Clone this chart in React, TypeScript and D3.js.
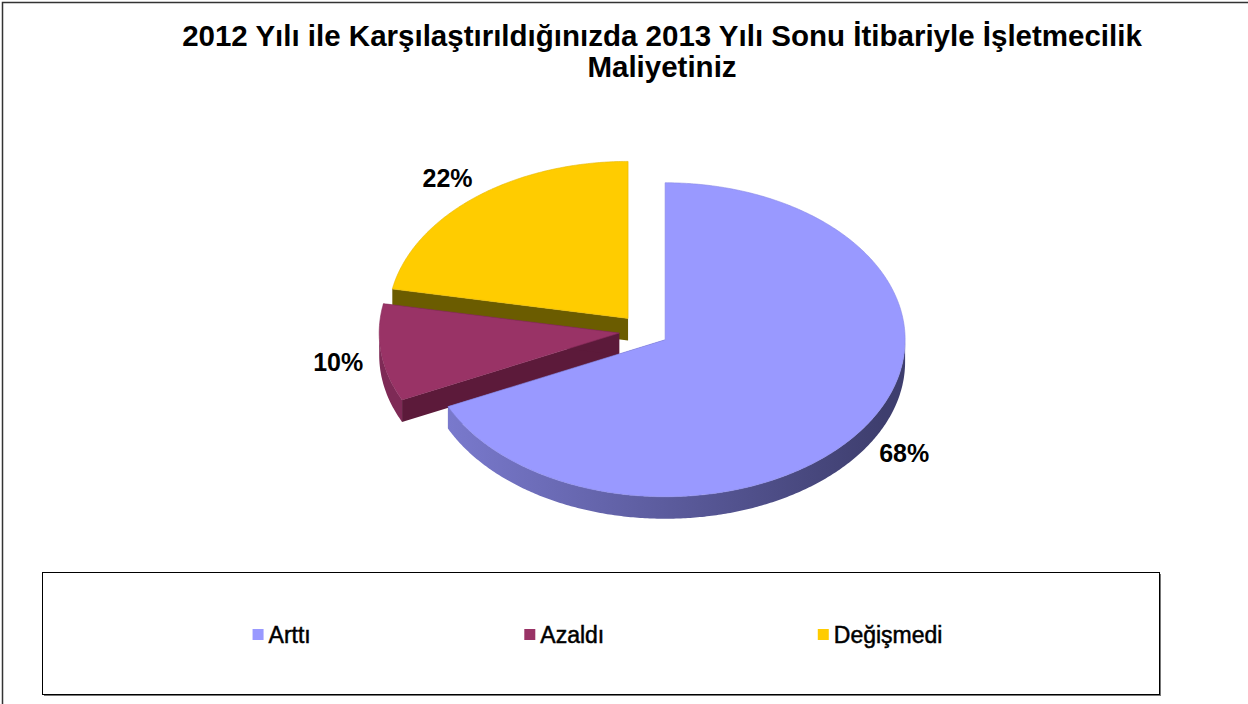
import * as React from 'react'
import * as d3 from 'd3'

// chart data
const categories = ['Arttı', 'Azaldı', 'Değişmedi']
const shares = [68, 10, 22]
const titleLines = [
  '2012 Yılı ile Karşılaştırıldığınızda 2013 Yılı Sonu İtibariyle İşletmecilik',
  'Maliyetiniz',
]

// look
const topColors = ['#9999FF', '#993366', '#FFCC00']
const wallLight = ['#7f7fd6', '#7e2a56', '#8a7300']
const wallDark = ['#3e3e6e', '#4f1631', '#5e4e00']
const cutColors = ['#54548f', '#5c1a3a', '#6b5c00']

const W = 1248
const H = 704
const FONT = "'Liberation Sans', Arial, sans-serif"

const cx = 644
const cy = 331
const rx = 240
const ry = 157
const depth = 22
const explode = 25

const measure = (() => {
  const ctx = document.createElement('canvas').getContext('2d')
  return (txt: string, size: number) => {
    if (!ctx) return txt.length * size * 0.55
    ctx.font = `${size}px ${FONT}`
    return ctx.measureText(txt).width
  }
})()

const line = d3.line()

const Slice = ({ s, i, grad }) => {
  const mid = (s.startAngle + s.endAngle) / 2
  const ox = cx + explode * Math.sin(mid)
  const oy = cy - explode * (ry / rx) * Math.cos(mid)
  const pt = (a: number, dy = 0): [number, number] => [ox + rx * Math.sin(a), oy - ry * Math.cos(a) + dy]
  const arcPts = (a0: number, a1: number, dy = 0) => {
    const n = Math.max(2, Math.ceil((a1 - a0) / 0.01))
    return d3.range(n + 1).map(k => pt(a0 + ((a1 - a0) * k) / n, dy))
  }
  const apex: [number, number] = [ox, oy]
  const apexD: [number, number] = [ox, oy + depth]

  const cut = (a: number) => line([apex, pt(a), pt(a, depth), apexD]) + 'Z'
  const top = line([apex, ...arcPts(s.startAngle, s.endAngle)]) + 'Z'

  // only the front half of the rim shows
  const f0 = Math.max(s.startAngle, Math.PI / 2)
  const f1 = Math.min(s.endAngle, (3 * Math.PI) / 2)
  const wall = f1 > f0 ? line([...arcPts(f0, f1), ...arcPts(f0, f1, depth).reverse()]) + 'Z' : null

  return (
    <g>
      <path d={cut(s.startAngle)} fill={cutColors[i]} />
      <path d={cut(s.endAngle)} fill={cutColors[i]} />
      {wall && <path d={wall} fill={`url(#${grad})`} />}
      <path d={top} fill={topColors[i]} stroke={d3.color(topColors[i]).darker(0.3).toString()} strokeWidth={0.6} />
    </g>
  )
}

const App = () => {
  const pie = d3.pie<number>().sort(null).value(d => d)
  const slices = pie(shares)

  // back slices first so the big front slice covers them
  const order = [2, 1, 0]

  const labels = slices.map(s => {
    const mid = (s.startAngle + s.endAngle) / 2
    const ox = cx + explode * Math.sin(mid)
    const oy = cy - explode * (ry / rx) * Math.cos(mid)
    const f = 1.18
    const x = ox + rx * f * Math.sin(mid)
    const y = oy - ry * f * Math.cos(mid) + depth * Math.max(0, -Math.cos(mid)) + 5
    return { x, y, text: Math.round((s.data / d3.sum(shares)) * 100) + '%' }
  })

  // legend: items spread evenly across the box
  const lgX = 42
  const lgY = 572
  const lgW = 1117
  const lgH = 122
  const mark = 11
  const fs = 23
  const itemW = categories.map(c => mark + 5 + measure(c, fs))
  const gap = (lgW - d3.sum(itemW)) / (categories.length + 1)
  const itemX = itemW.map((_, k) => lgX + gap * (k + 1) + d3.sum(itemW.slice(0, k)) - 3)

  return (
    <svg width={W} height={H} style={{ position: 'fixed', left: 0, top: 0, background: '#fff' }} fontFamily={FONT}>
      <defs>
        {slices.map((s, i) => (
          <linearGradient key={i} id={`wall${i}`} gradientUnits="userSpaceOnUse" x1={cx - rx} x2={cx + rx} y1={0} y2={0}>
            <stop offset="0%" stopColor={wallLight[i]} />
            <stop offset="100%" stopColor={wallDark[i]} />
          </linearGradient>
        ))}
      </defs>
      <rect x={2.5} y={2.5} width={W + 20} height={H + 20} fill="none" stroke="#333" strokeWidth={1.5} />

      {titleLines.map((t, k) => (
        <text key={k} x={662} y={46 + k * 31} textAnchor="middle" fontSize={29.5} fontWeight="bold" fill="#000">
          {t}
        </text>
      ))}

      {order.map(i => (
        <Slice key={i} s={slices[i]} i={i} grad={`wall${i}`} />
      ))}

      {labels.map((l, i) => (
        <text key={i} x={l.x} y={l.y} textAnchor="middle" dominantBaseline="middle" fontSize={25} fontWeight="bold" fill="#000">
          {l.text}
        </text>
      ))}

      <rect x={lgX + 2} y={lgY + 2} width={lgW} height={lgH} fill="#777" />
      <rect x={lgX + 0.5} y={lgY + 0.5} width={lgW} height={lgH} fill="#fff" stroke="#000" strokeWidth={1} />
      {categories.map((c, k) => (
        <g key={c} transform={`translate(${itemX[k]},${lgY + 57})`}>
          <rect x={0} y={0} width={mark} height={mark} fill={topColors[k]} />
          <text x={mark + 5} y={mark + 3} fontSize={fs} fill="#000" stroke="#000" strokeWidth={0.5}>
            {c}
          </text>
        </g>
      ))}
    </svg>
  )
}

export default App
